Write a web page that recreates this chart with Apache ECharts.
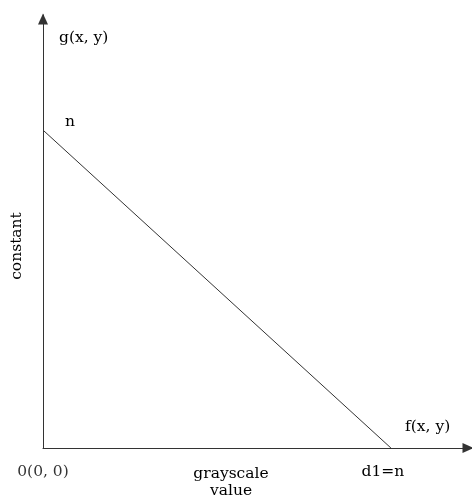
<!DOCTYPE html>
<html>
<head>
<meta charset="utf-8">
<script src="https://cdn.jsdelivr.net/npm/echarts@6/dist/echarts.min.js"></script>
<style>
  html, body { margin: 0; padding: 0; background: #fff; }
  #chart { width: 472px; height: 501px; }
</style>
</head>
<body>
<div id="chart"></div>
<script>
// Linear mapping: g falls from the constant n at f = 0 down to 0 at f = d1 = n
const n = 10;
const lineX = [0, n];
const lineY = [n, 0];
const pointLabels = ['n', 'd1=n'];
const originLabel = '0(0, 0)';
const axisExtent = { x: 12.33, y: 13.62 };

const font = 'DejaVu Serif';
const fontSize = 15.5;
const ink = '#000';
const stroke = '#333';

const chart = echarts.init(document.getElementById('chart'));

const lineData = lineX.map((x, i) => ({
  value: [x, lineY[i]],
  label: i === 0
    ? { show: true, formatter: pointLabels[0], offset: [27, -8] }
    : { show: true, formatter: pointLabels[1], offset: [-8, 24] }
}));

const arrowLine = {
  show: true, onZero: false,
  symbol: ['none', 'triangle'], symbolSize: [10, 11], symbolOffset: [0, -4],
  lineStyle: { color: stroke, width: 1 }
};

chart.setOption({
  animation: false,
  grid: { left: 43, right: 0, top: 15, bottom: 53, containLabel: false },
  xAxis: {
    type: 'value', min: 0, max: axisExtent.x,
    axisLine: arrowLine,
    axisTick: { show: false }, axisLabel: { show: false }, splitLine: { show: false }
  },
  yAxis: {
    type: 'value', min: 0, max: axisExtent.y,
    axisLine: arrowLine,
    axisTick: { show: false }, axisLabel: { show: false }, splitLine: { show: false }
  },
  series: [
    {
      type: 'line',
      data: lineData,
      showSymbol: true,
      symbol: 'circle',
      symbolSize: 0,
      lineStyle: { color: stroke, width: 1 },
      label: { position: 'inside', align: 'center', verticalAlign: 'middle',
        fontFamily: font, fontSize: fontSize, color: ink },
      silent: true
    },
    {
      type: 'scatter',
      data: [[0, 0]],
      symbolSize: 0,
      label: { show: true, formatter: originLabel, position: 'inside', offset: [0, 24],
        align: 'center', verticalAlign: 'middle', fontFamily: font, fontSize: fontSize, color: ink },
      silent: true
    }
  ],
  graphic: [
    { type: 'text', left: 59, top: 30,
      style: { text: 'g(x, y)', font: fontSize + 'px "' + font + '"', fill: ink } },
    { type: 'text', left: 405, top: 419,
      style: { text: 'f(x, y)', font: fontSize + 'px "' + font + '"', fill: ink } },
    { type: 'text', x: 17, y: 246, rotation: Math.PI / 2,
      style: { text: 'constant', font: fontSize + 'px "' + font + '"', fill: ink, align: 'center', verticalAlign: 'middle' } },
    { type: 'text', x: 231, y: 474,
      style: { text: 'grayscale', font: fontSize + 'px "' + font + '"', fill: ink, align: 'center', verticalAlign: 'middle' } },
    { type: 'text', x: 231, y: 491,
      style: { text: 'value', font: fontSize + 'px "' + font + '"', fill: ink, align: 'center', verticalAlign: 'middle' } }
  ]
});
</script>
</body>
</html>
